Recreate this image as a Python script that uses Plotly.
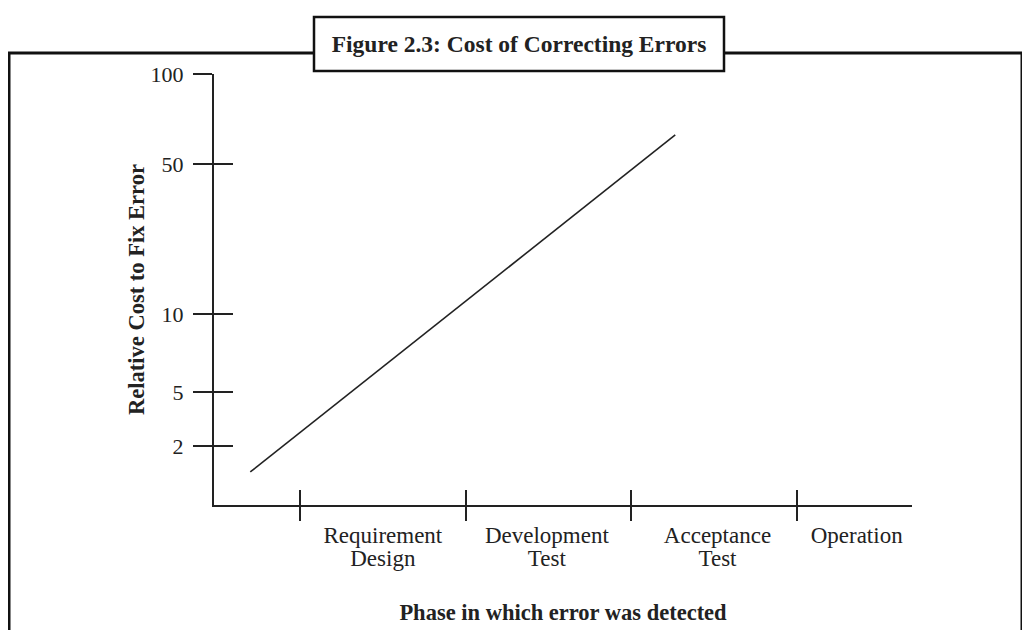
import plotly.graph_objects as go

# ---- data ----
phase_line1 = ["Requirement", "Development", "Acceptance", "Operation"]   # first line of each phase label
phase_line2 = ["Design", "Test", "Test", ""]                            # second line of each phase label
phase_label_at = [1.5, 2.49, 3.52, 4.36]          # label centres between phase boundaries
phase_bounds = [1, 2, 3, 4]                       # boundary tick marks on the phase axis
cost_labels = ["100", "50", "10", "5", "2"]       # relative cost tick labels
cost_tick_pos = [100, 79.1, 44.3, 26.2, 13.7]     # where those labels sit on the (schematic) cost axis
line_phase = [0.70, 3.265]                        # trend line: phase position
line_cost = [7.66, 85.85]                         # trend line: cost-axis position

X_RANGE = [0.481, 4.694]
Y_RANGE = [0, 100]
INK = "#222222"
SERIF = "Liberation Serif, Times New Roman, serif"
LABEL_SIZE = 23
LINE_GAP = 24

fig = go.Figure()
fig.add_trace(go.Scatter(x=line_phase, y=line_cost, mode="lines",
                         line=dict(color=INK, width=1.6), showlegend=False, hoverinfo="skip"))
# helper (empty) traces so the overlay axes (crossing tick marks, second label line) exist
for xa in ("x2", "x3", "x4"):
    fig.add_trace(go.Scatter(x=[None], y=[None], xaxis=xa, yaxis="y2", showlegend=False, hoverinfo="skip"))

OFF = 8                      # page body margin of the browser
W, H = 1030 - OFF, 630 - OFF
L, R, T, B = 214 - OFF, 1030 - 912, 74 - OFF, 630 - 505
pw, ph = W - L - R, H - T - B

def px(xp):
    return (xp - OFF - L) / pw

def py(yp):
    return (H - B - (yp - OFF)) / ph

overlay_x = dict(range=X_RANGE, overlaying="x", anchor="y", side="bottom", automargin=False,
                 showgrid=False, zeroline=False, showline=False)

fig.update_layout(
    width=W, height=H,
    margin=dict(l=L, r=R, t=T, b=B),
    paper_bgcolor="white", plot_bgcolor="white",
    font=dict(family=SERIF, color=INK),
    title=dict(text="<b>Figure 2.3: Cost of Correcting Errors</b>",
               x=(519 - OFF) / W, xref="container", xanchor="center",
               y=1 - (44 - OFF) / H, yref="container", yanchor="middle",
               font=dict(family=SERIF, size=23.5, color=INK)),
    xaxis=dict(range=X_RANGE, showgrid=False, zeroline=False, automargin=False,
               showline=True, linecolor=INK, linewidth=2,
               tickmode="array", tickvals=phase_label_at, ticktext=phase_line1,
               ticks="outside", ticklen=8, tickcolor="rgba(0,0,0,0)",
               tickfont=dict(family=SERIF, size=LABEL_SIZE, color=INK),
               title=dict(text="<b>Phase in which error was detected</b>", standoff=58,
                          font=dict(family=SERIF, size=22.5, color=INK))),
    xaxis2=dict(**overlay_x, showticklabels=False,
                tickmode="array", tickvals=phase_bounds,
                ticks="inside", ticklen=15, tickwidth=2, tickcolor=INK),
    xaxis3=dict(**overlay_x, showticklabels=False,
                tickmode="array", tickvals=phase_bounds,
                ticks="outside", ticklen=15, tickwidth=2, tickcolor=INK),
    xaxis4=dict(**overlay_x, showticklabels=True,
                tickmode="array", tickvals=phase_label_at, ticktext=phase_line2,
                ticks="outside", ticklen=8 + LINE_GAP, tickcolor="rgba(0,0,0,0)",
                tickfont=dict(family=SERIF, size=LABEL_SIZE, color=INK)),
    yaxis=dict(range=Y_RANGE, showgrid=False, zeroline=False, automargin=False,
               showline=True, linecolor=INK, linewidth=2,
               tickmode="array", tickvals=cost_tick_pos, ticktext=cost_labels,
               ticks="outside", ticklen=19, tickwidth=2, tickcolor=INK,
               ticklabelstandoff=5,
               tickfont=dict(family=SERIF, size=22, color=INK),
               title=dict(text="<b>Relative Cost to Fix Error</b>", standoff=0,
                          font=dict(family=SERIF, size=22.5, color=INK))),
    yaxis2=dict(range=Y_RANGE, overlaying="y", anchor="x", side="left", automargin=False,
                showgrid=False, zeroline=False, showline=False, showticklabels=False,
                tickmode="array", tickvals=cost_tick_pos,
                ticks="inside", ticklen=19, tickwidth=2, tickcolor=INK),
    shapes=[
        # outer frame (open at the bottom)
        dict(type="path", xref="paper", yref="paper",
             path=f"M {px(9)} {py(640)} L {px(9)} {py(53)} L {px(1022)} {py(53)} L {px(1022)} {py(640)}",
             line=dict(color="#111111", width=3), layer="below"),
        # title box
        dict(type="rect", xref="paper", yref="paper",
             x0=px(314), x1=px(724), y0=py(71), y1=py(17),
             line=dict(color="#111111", width=2.5), fillcolor="white", layer="below"),
    ],
)

fig.write_html("out.html")
